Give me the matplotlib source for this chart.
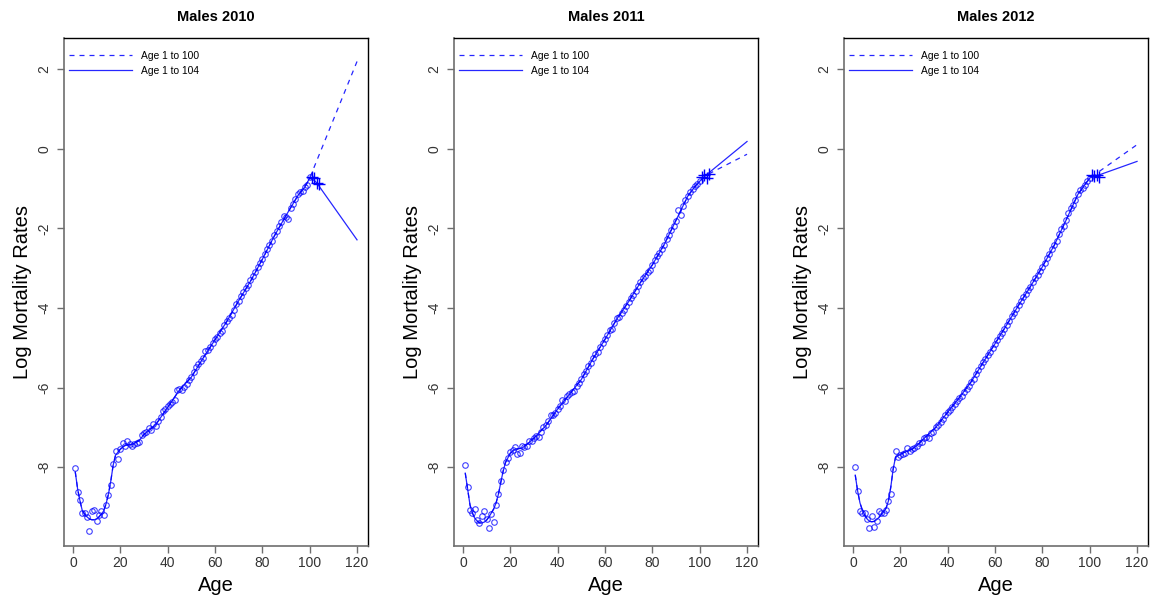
import matplotlib
matplotlib.use("Agg")
import matplotlib.pyplot as plt
import numpy as np

plt.rcParams['font.family'] = ['Liberation Sans', 'DejaVu Sans']
plt.rcParams['axes.unicode_minus'] = False

# observed log mortality rates, ages 1..100 (circles) and 101..104 (plus signs)
ages_obs = np.arange(1, 101)
ages_old = np.arange(101, 105)

obs_2010 = [-8.01, -8.62, -8.82, -9.14, -9.14, -9.24, -9.60, -9.09, -9.07, -9.34,
            -9.20, -9.10, -9.20, -8.94, -8.71, -8.44, -7.91, -7.59, -7.80, -7.54,
            -7.38, -7.48, -7.33, -7.41, -7.46, -7.43, -7.38, -7.36, -7.19, -7.13,
            -7.12, -7.02, -7.06, -6.91, -6.96, -6.85, -6.73, -6.60, -6.54, -6.46,
            -6.41, -6.36, -6.31, -6.07, -6.04, -6.05, -5.99, -5.90, -5.82, -5.74,
            -5.62, -5.49, -5.40, -5.34, -5.26, -5.09, -5.05, -4.97, -4.88, -4.78,
            -4.72, -4.63, -4.57, -4.42, -4.34, -4.25, -4.17, -4.05, -3.90, -3.82,
            -3.70, -3.59, -3.50, -3.42, -3.30, -3.21, -3.10, -2.98, -2.87, -2.77,
            -2.65, -2.53, -2.41, -2.31, -2.18, -2.06, -1.95, -1.85, -1.70, -1.72,
            -1.77, -1.50, -1.38, -1.27, -1.15, -1.10, -1.07, -0.97, -0.90, -0.72]
old_2010 = [-0.72, -0.74, -0.86, -0.88]

obs_2011 = [-7.95, -8.51, -9.08, -9.15, -9.06, -9.32, -9.41, -9.23, -9.10, -9.30,
            -9.52, -9.18, -9.37, -8.94, -8.67, -8.34, -8.07, -7.88, -7.76, -7.62,
            -7.57, -7.50, -7.68, -7.64, -7.47, -7.50, -7.47, -7.33, -7.35, -7.26,
            -7.21, -7.23, -7.12, -6.99, -6.94, -6.83, -6.70, -6.68, -6.65, -6.54,
            -6.46, -6.32, -6.35, -6.22, -6.15, -6.10, -6.08, -5.96, -5.88, -5.79,
            -5.67, -5.58, -5.45, -5.38, -5.26, -5.16, -5.10, -4.97, -4.88, -4.78,
            -4.68, -4.56, -4.52, -4.39, -4.25, -4.23, -4.13, -4.06, -3.94, -3.84,
            -3.76, -3.67, -3.57, -3.45, -3.35, -3.26, -3.20, -3.11, -3.05, -2.93,
            -2.80, -2.70, -2.61, -2.52, -2.42, -2.28, -2.17, -2.05, -1.93, -1.82,
            -1.53, -1.66, -1.43, -1.30, -1.18, -1.10, -1.02, -0.95, -0.88, -0.82]
old_2011 = [-0.72, -0.66, -0.74, -0.64]

obs_2012 = [-8.00, -8.60, -9.09, -9.14, -9.16, -9.30, -9.53, -9.22, -9.49, -9.34,
            -9.09, -9.15, -9.14, -9.07, -8.86, -8.67, -8.04, -7.60, -7.75, -7.69,
            -7.67, -7.65, -7.52, -7.60, -7.54, -7.52, -7.46, -7.40, -7.36, -7.27,
            -7.23, -7.27, -7.15, -7.11, -6.98, -6.94, -6.86, -6.78, -6.70, -6.62,
            -6.57, -6.48, -6.41, -6.33, -6.25, -6.20, -6.12, -6.03, -5.95, -5.86,
            -5.78, -5.66, -5.57, -5.47, -5.37, -5.28, -5.18, -5.10, -5.00, -4.90,
            -4.80, -4.71, -4.62, -4.52, -4.42, -4.32, -4.21, -4.12, -4.02, -3.93,
            -3.83, -3.73, -3.64, -3.56, -3.47, -3.36, -3.26, -3.17, -3.08, -2.97,
            -2.86, -2.75, -2.64, -2.53, -2.43, -2.33, -2.14, -2.03, -1.93, -1.80,
            -1.62, -1.48, -1.41, -1.28, -1.14, -1.05, -0.99, -0.90, -0.82, -0.74]
old_2012 = [-0.66, -0.68, -0.67, -0.70]

# fitted curves: common part up to age 100, then the two extrapolated tails
fit_ages = [1, 2, 3, 4, 5, 6, 7, 8, 9, 10, 11, 12, 13, 14, 15, 16, 17, 18, 20,
            22, 25, 28, 30, 35, 40, 45, 50, 55, 60, 65, 70, 75, 80, 85, 90, 95, 98, 100]
fit_2010 = [-8.12, -8.55, -8.85, -9.10, -9.18, -9.25, -9.30, -9.32, -9.32, -9.30,
            -9.25, -9.18, -9.10, -8.92, -8.68, -8.35, -7.95, -7.70, -7.55,
            -7.45, -7.43, -7.33, -7.18, -6.93, -6.50, -6.06, -5.74, -5.26, -4.80,
            -4.34, -3.82, -3.33, -2.78, -2.20, -1.68, -1.18, -0.96, -0.74]
fit_2011 = [-8.15, -8.55, -8.95, -9.15, -9.28, -9.35, -9.40, -9.40, -9.38, -9.33,
            -9.25, -9.15, -9.05, -8.90, -8.68, -8.38, -8.10, -7.88, -7.65,
            -7.55, -7.52, -7.38, -7.27, -6.96, -6.54, -6.17, -5.80, -5.27, -4.79,
            -4.28, -3.84, -3.36, -2.92, -2.41, -1.80, -1.19, -0.95, -0.82]
fit_2012 = [-8.20, -8.60, -8.90, -9.08, -9.20, -9.30, -9.36, -9.37, -9.36, -9.32,
            -9.26, -9.19, -9.12, -9.03, -8.85, -8.50, -8.05, -7.75, -7.68,
            -7.62, -7.55, -7.40, -7.28, -7.00, -6.62, -6.25, -5.85, -5.37, -4.90,
            -4.42, -3.93, -3.46, -2.97, -2.43, -1.80, -1.15, -0.90, -0.74]

# tails beyond age 100 (fit on ages 1-104: solid, fit on ages 1-100: dashed)
tail104_ages = {2010: [102, 103, 120], 2011: [102, 103, 120], 2012: [102, 103, 120]}
tail104_vals = {2010: [-0.80, -0.86, -2.29], 2011: [-0.70, -0.65, 0.18], 2012: [-0.68, -0.68, -0.32]}
tail100_ages = {2010: [120], 2011: [103, 120], 2012: [101, 120]}
tail100_vals = {2010: [2.19], 2011: [-0.66, -0.14], 2012: [-0.70, 0.10]}

years = [2010, 2011, 2012]
obs = {2010: obs_2010, 2011: obs_2011, 2012: obs_2012}
old = {2010: old_2010, 2011: old_2011, 2012: old_2012}
fits = {2010: fit_2010, 2011: fit_2011, 2012: fit_2012}

fig = plt.figure(figsize=(11.58, 6.0), dpi=100)
lefts = [64, 454, 844]
axis_grey = '#6e6e6e'

for left, yr in zip(lefts, years):
    ax = fig.add_axes([left / 1158, 1 - 545.7 / 600, 304.3 / 1158, 507.4 / 600])

    ax.plot(ages_obs, obs[yr], 'o', mfc='none', mec='blue', ms=4.0, mew=0.8,
            alpha=0.75, zorder=3)
    ax.plot(ages_old, old[yr], '+', color='blue', ms=9, mew=1.0, zorder=3)

    x100 = fit_ages + tail100_ages[yr]
    y100 = fits[yr] + tail100_vals[yr]
    x104 = fit_ages + tail104_ages[yr]
    y104 = fits[yr] + tail104_vals[yr]
    ax.plot(x100, y100, color='blue', lw=0.9, ls=(0, (4, 4)), alpha=0.85,
            label='Age 1 to 100')
    ax.plot(x104, y104, color='blue', lw=0.9, alpha=0.85, label='Age 1 to 104')

    ax.set_xlim(-3.76, 124.76)
    ax.set_ylim(-9.972, 2.772)
    ax.set_xticks(np.arange(0, 121, 20))
    ax.set_yticks(np.arange(-8, 3, 2))
    ax.tick_params(axis='both', direction='out', length=5, width=1,
                   color=axis_grey, labelsize=10, labelcolor='#333333')
    ax.tick_params(axis='x', pad=2.5)
    ax.tick_params(axis='y', pad=4)
    for lab in ax.get_yticklabels():
        lab.set_rotation(90)
        lab.set_va('center')

    for side in ['left', 'bottom']:
        ax.spines[side].set_color(axis_grey)
        ax.spines[side].set_linewidth(1.2)
    for side in ['top', 'right']:
        ax.spines[side].set_color('black')
        ax.spines[side].set_linewidth(1.0)

    ax.set_title(f'Males {yr}', fontsize=10.5, fontweight='bold', pad=12.5)
    ax.set_xlabel('Age', fontsize=14.5, labelpad=4)
    ax.set_ylabel('Log Mortality Rates', fontsize=14.5, labelpad=4)

    ax.legend(loc='upper left', bbox_to_anchor=(0.0, 0.985), frameon=False,
              fontsize=7.4, handlelength=6.1, handletextpad=0.9,
              labelspacing=0.45, borderaxespad=0.3, borderpad=0.2)

fig.savefig('out.png', dpi=100)
